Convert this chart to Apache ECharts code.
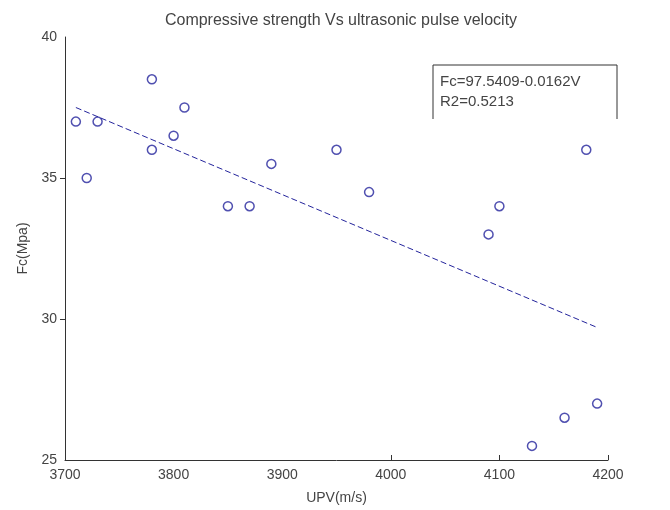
<!DOCTYPE html>
<html><head><meta charset="utf-8">
<script src="https://cdn.jsdelivr.net/npm/echarts@6/dist/echarts.min.js"></script>
<style>html,body{margin:0;padding:0;background:#fff}#c{width:670px;height:510px}</style>
</head><body><div id="c"></div>
<script>
// Data
const upv = [3710, 3720, 3730, 3780, 3780, 3800, 3810, 3850, 3870, 3890, 3950, 3980, 4090, 4100, 4180, 4130, 4160, 4190];
const fc  = [37, 35, 37, 38.5, 36, 36.5, 37.5, 34, 34, 35.5, 36, 34.5, 33, 34, 36, 25.5, 26.5, 27];
const fitX = [3710, 4190];
const fitY = [37.5, 29.7];
const xTickLabels = [3700, 3800, 3900, 4000, 4100, 4200];
const yTickLabels = [25, 30, 35, 40];
const xTickMarks = [4000, 4100, 4200];
const yTickMarks = [30, 35];
const titleText = 'Compressive strength Vs ultrasonic pulse velocity';
const eqLines = ['Fc=97.5409-0.0162V', 'R2=0.5213'];

const FONT = "'Liberation Sans', Arial, sans-serif";
const TXT = '#444';
const BLUE = '#24249c';

const chart = echarts.init(document.getElementById('c'), null, {renderer: 'canvas'});
chart.setOption({
  animation: false,
  backgroundColor: '#fff',
  title: {
    text: titleText, left: 336, top: 8, textAlign: 'center',
    textStyle: {fontFamily: FONT, fontSize: 16, fontWeight: 'normal', color: TXT}
  },
  grid: {left: 65, right: 62, top: 37, bottom: 43, containLabel: false},
  xAxis: {
    type: 'value', min: 3700, max: 4200, interval: 100,
    name: 'UPV(m/s)', nameLocation: 'middle', nameGap: 31,
    nameTextStyle: {fontFamily: FONT, fontSize: 14, color: TXT},
    axisLine: {show: true, onZero: false, lineStyle: {color: '#333', width: 1}},
    axisTick: {show: true, inside: true, length: 5, customValues: xTickMarks, lineStyle: {color: '#333'}},
    axisLabel: {customValues: xTickLabels, formatter: v => String(v), fontFamily: FONT, fontSize: 14, color: TXT, margin: 8},
    splitLine: {show: false}
  },
  yAxis: {
    type: 'value', min: 25, max: 40, interval: 5,
    name: 'Fc(Mpa)', nameLocation: 'middle', nameGap: 32, nameRotate: 90,
    nameTextStyle: {fontFamily: FONT, fontSize: 14, color: TXT},
    axisLine: {show: true, onZero: false, lineStyle: {color: '#333', width: 1}},
    axisTick: {show: true, inside: false, length: 5, customValues: yTickMarks, lineStyle: {color: '#333'}},
    axisLabel: {customValues: yTickLabels, fontFamily: FONT, fontSize: 14, color: TXT, margin: 8},
    splitLine: {show: false}
  },
  series: [
    {
      type: 'scatter', data: upv.map((x, i) => [x, fc[i]]),
      symbol: 'circle', symbolSize: 9,
      itemStyle: {color: 'transparent', borderColor: BLUE, borderWidth: 1.5}
    },
    {
      type: 'line', data: fitX.map((x, i) => [x, fitY[i]]),
      symbol: 'none', lineStyle: {color: BLUE, width: 1, type: [6, 3]}
    }
  ],
  graphic: [
    {type: 'polyline', shape: {points: [[433, 119], [433, 65], [617, 65], [617, 119]]},
     style: {stroke: '#333', lineWidth: 1, fill: null}},
    {type: 'text', left: 440, top: 74, style: {text: eqLines[0], font: "15px " + FONT, fill: TXT}},
    {type: 'text', left: 440, top: 94, style: {text: eqLines[1], font: "15px " + FONT, fill: TXT}}
  ]
});
</script></body></html>
